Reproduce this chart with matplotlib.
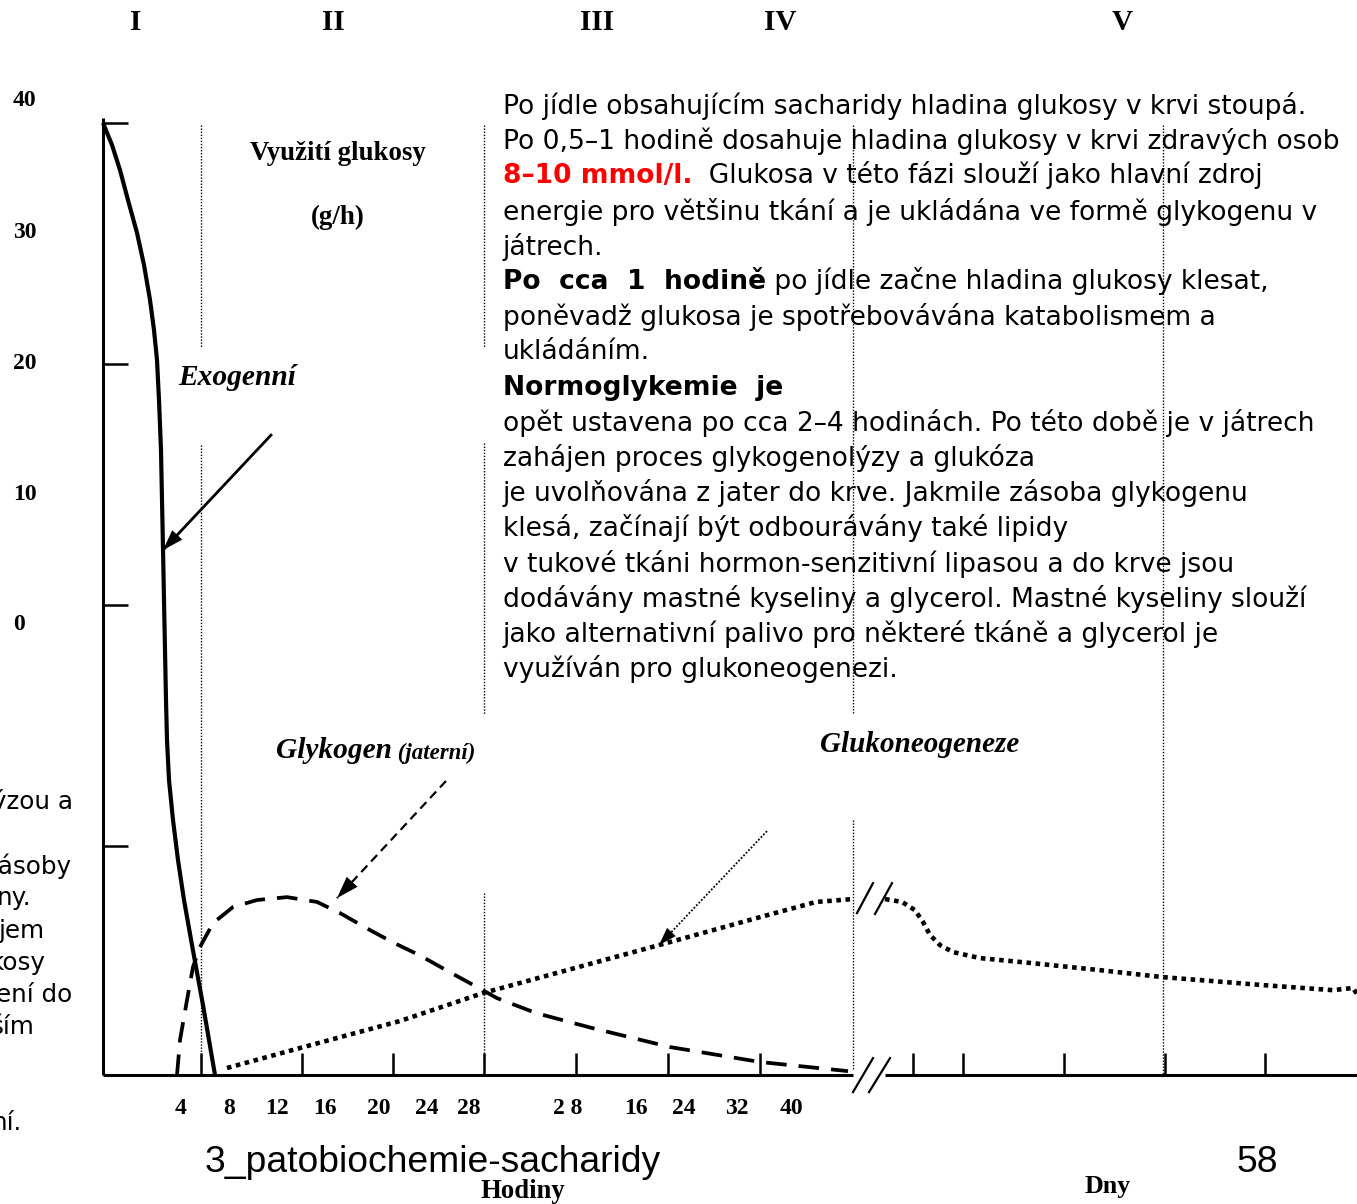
import matplotlib
matplotlib.use("Agg")
import matplotlib.pyplot as plt

W, H = 1357, 1204

# ---------------- data ----------------
roman_labels = ["I", "II", "III", "IV", "V"]
y_tick_labels = ["40", "30", "20", "10", "0"]
y_tick_values = [40, 30, 20, 10]
x_labels_hours = ["4", "8", "12", "16", "20", "24", "28"]
x_labels_second = ["2 8", "16", "24", "32", "40"]
x_tick_positions = [98, 199, 290, 381, 473, 565, 657, 810, 860, 961, 1062, 1162]
phase_bounds = [98, 381, 750, 1060]

# Exogenous glucose (solid)
exo_x = [0, 9, 17, 25, 34, 41, 47, 51, 54, 56, 58, 59, 60, 61, 62, 63, 64, 66,
         70, 75, 81, 89, 100, 112]
exo_y = [40.0, 39.09, 38.05, 36.80, 35.44, 34.11, 32.66, 31.41, 30.17, 28.51,
         26.43, 24.36, 22.37, 20.21, 18.13, 16.06, 14.40, 12.74, 11.08, 9.42,
         7.76, 5.89, 3.40, 0.50]

# Liver glycogen (dashed)
gly_x = [74, 77, 84, 90, 97, 110, 130, 154, 184, 214, 237, 264, 290, 317, 344,
         374, 394, 433, 489, 567, 657, 745]
gly_y = [0.50, 1.95, 3.61, 4.98, 5.81, 6.80, 7.47, 7.76, 7.88, 7.68, 7.22, 6.58,
         6.00, 5.46, 4.83, 4.15, 3.69, 3.07, 2.45, 1.66, 1.04, 0.66]

# Gluconeogenesis (dotted), hours part and days part
gng_h_x = [124, 197, 297, 380, 457, 556, 657, 713, 750]
gng_h_y = [0.79, 1.62, 2.74, 3.90, 4.77, 5.89, 7.05, 7.68, 7.80]
gng_d_x = [782, 799, 812, 820, 827, 837, 850, 877, 927, 997, 1060, 1160, 1230, 1250, 1254]
gng_d_y = [7.80, 7.68, 7.34, 6.85, 6.31, 5.89, 5.60, 5.35, 5.15, 4.85, 4.56, 4.23,
           4.02, 4.11, 3.86]

para_lines = [
    [("Po jídle obsahujícím sacharidy hladina glukosy v krvi stoupá.", "n")],
    [("Po 0,5\u20131 hodině dosahuje hladina glukosy v krvi zdravých osob", "n")],
    [("8\u201310 mmol/l.", "r"), ("  Glukosa v této fázi slouží jako hlavní zdroj", "n")],
    [("energie pro většinu tkání a je ukládána ve formě glykogenu v", "n")],
    [("játrech.", "n")],
    [("Po  cca  1  hodině", "b"), (" po jídle začne hladina glukosy klesat,", "n")],
    [("poněvadž glukosa je spotřebovávána katabolismem a", "n")],
    [("ukládáním.", "n")],
    [("Normoglykemie  je", "b")],
    [("opět ustavena po cca 2\u20134 hodinách. Po této době je v játrech", "n")],
    [("zahájen proces glykogenolýzy a glukóza", "n")],
    [("je uvolňována z jater do krve. Jakmile zásoba glykogenu", "n")],
    [("klesá, začínají být odbourávány také lipidy", "n")],
    [("v tukové tkáni hormon-senzitivní lipasou a do krve jsou", "n")],
    [("dodávány mastné kyseliny a glycerol. Mastné kyseliny slouží", "n")],
    [("jako alternativní palivo pro některé tkáně a glycerol je", "n")],
    [("využíván pro glukoneogenezi.", "n")],
]
left_fragments = ["lýzou a", "zásoby", "ny.", "jem", "kosy", "ení do", "ším", "ní."]

# ---------------- layout ----------------
fig = plt.figure(figsize=(W / 100, H / 100), dpi=100)
renderer = fig.canvas.get_renderer()


def fx(px):
    return px / W


def fy(py):
    return 1 - py / H


def fit(t, target):
    w = t.get_window_extent(renderer).width
    t.set_fontsize(t.get_fontsize() * target / w)
    return t


SERIF = "Liberation Serif"
SANS = "Liberation Sans"
HAND = "DejaVu Sans"

AX_L, AX_R, AX_B, AX_T = 103, 1357, 1075, 123
ax = fig.add_axes([fx(AX_L), fy(AX_B), (AX_R - AX_L) / W, (AX_B - AX_T) / H])
ax.set_xlim(0, 1254)
ax.set_ylim(0.5, 40)
ax.axis("off")

K = dict(color="black", clip_on=False, solid_capstyle="butt")
# axes lines
ax.plot([0, 0], [0.5, 40.2], lw=2.2, **K)
ax.plot([0, 750], [0.5, 0.5], lw=2.2, **K)
ax.plot([782, 1254], [0.5, 0.5], lw=2.2, **K)
for yv in y_tick_values:
    ax.plot([0, 25], [yv, yv], lw=1.8, **K)
ax.vlines(x_tick_positions, 0.5, 1.41, lw=1.8, color="black", clip_on=False)

# phase boundary dotted lines (drawn in pieces, gaps where text sits)
phase_segments = [
    [(39.92, 30.66), (26.64, 0.91)],
    [(39.92, 30.66), (26.72, 15.44), (8.05, 0.91)],
    [(39.92, 15.52), (11.08, 0.71)],
    [(39.92, 0.5)],
]
for xb, segs in zip(phase_bounds, phase_segments):
    for y0, y1 in segs:
        ax.plot([xb, xb], [y0, y1], color="black", lw=1.0,
                linestyle=(0, (1, 1.2)), clip_on=False)

# curves
ax.plot(exo_x, exo_y, color="black", lw=3.0, clip_on=False,
        solid_capstyle="butt", solid_joinstyle="round")
ax.plot(gly_x, gly_y, color="black", lw=2.7, linestyle=(0, (5.5, 3.2)),
        clip_on=False, dash_capstyle="butt")
ax.plot(gng_h_x, gng_h_y, color="black", lw=3.3, linestyle=(0, (1, 1.0)),
        clip_on=False, dash_capstyle="butt")
ax.plot(gng_d_x, gng_d_y, color="black", lw=3.3, linestyle=(0, (1, 1.0)),
        clip_on=False, dash_capstyle="butt")

# axis break marks
for (xa, xb_), (ya, yb) in [((754, 770), (7.22, 8.46)), ((772, 789), (7.18, 8.46)),
                             ((750, 770), (-0.21, 1.20)), ((766, 787), (-0.21, 1.20))]:
    ax.plot([xa, xb_], [ya, yb], color="black", lw=1.6, clip_on=False)


# arrows
def arrow(tail, tip, ls, lw, hs):
    ax.plot([tail[0], tip[0]], [tail[1], tip[1]], color="black", lw=lw,
            linestyle=ls, clip_on=False)
    ax.annotate("", xy=tip, xytext=tail,
                arrowprops=dict(arrowstyle="-|>,head_length=1.0,head_width=0.33",
                                mutation_scale=hs, lw=0, color="black",
                                shrinkA=0, shrinkB=0))


arrow((168, 27.05), (60, 22.28), "-", 2.0, 15)
arrow((343, 12.70), (234, 7.84), (0, (4, 2.5)), 1.6, 16)
arrow((664, 10.62), (556, 5.89), (0, (1, 1)), 1.3, 13)

# ---------------- texts ----------------
rx = [136, 333, 597, 780, 1122]
for lab, x in zip(roman_labels, rx):
    fig.text(fx(x), fy(22), lab, family=SERIF, weight="bold", fontsize=21,
             ha="center", va="center")

ly = [101, 232, 363, 494, 625]
for lab, y in zip(y_tick_labels, ly):
    fig.text(fx(13), fy(y), lab, family=SERIF, weight="bold", fontsize=17,
             ha="left", va="center")

xl1 = [181, 229, 277, 325, 379, 427, 469]
for lab, x in zip(x_labels_hours, xl1):
    fig.text(fx(x), fy(1109), lab, family=SERIF, weight="bold", fontsize=17,
             ha="center", va="center")
xl2 = [568, 636, 684, 737, 791]
for lab, x in zip(x_labels_second, xl2):
    fig.text(fx(x), fy(1109), lab, family=SERIF, weight="bold", fontsize=17,
             ha="center", va="center")

t = fig.text(fx(338), fy(153), "Využití glukosy", family=SERIF, weight="bold",
             fontsize=19, ha="center", va="center")
fit(t, 176)
fig.text(fx(338), fy(217), "(g/h)", family=SERIF, weight="bold",
         fontsize=t.get_fontsize(), ha="center", va="center")

t = fig.text(fx(237), fy(377), "Exogenní", family=SERIF, weight="bold",
             style="italic", fontsize=21, ha="center", va="center")
fit(t, 118)
tg = fig.text(fx(276), fy(750), "Glykogen", family=SERIF, weight="bold",
              style="italic", fontsize=21, ha="left", va="center")
fit(tg, 116)
tj = ax.annotate(" (jaterní)", xy=(1, 0), xycoords=tg, family=SERIF,
                 weight="bold", style="italic", fontsize=16.5, ha="left",
                 va="bottom")
t = fig.text(fx(920), fy(744), "Glukoneogeneze", family=SERIF, weight="bold",
             style="italic", fontsize=21, ha="center", va="center")
fit(t, 199)

t = fig.text(fx(523), fy(1191), "Hodiny", family=SERIF, weight="bold",
             fontsize=18, ha="center", va="center")
fit(t, 84)
t = fig.text(fx(1108), fy(1186), "Dny", family=SERIF, weight="bold",
             fontsize=18, ha="center", va="center")
fit(t, 46)

t = fig.text(fx(205), fy(1162), "3_patobiochemie-sacharidy", family=SANS,
             fontsize=28, ha="left", va="center")
fit(t, 455)
fig.text(fx(1237), fy(1162), "58", family=SANS, fontsize=t.get_fontsize(),
         ha="left", va="center")

# paragraph
probe = fig.text(0, 0, "".join(s for s, _ in para_lines[1]), family=HAND,
                 fontsize=20)
psize = 20 * 837 / probe.get_window_extent(renderer).width
probe.remove()

for i, segs in enumerate(para_lines):
    y = 106 + 35.2 * i
    prev = None
    for txt, st in segs:
        kw = dict(family=HAND, fontsize=psize,
                  weight="bold" if st in ("b", "r") else "normal",
                  color="#ff0000" if st == "r" else "black")
        if prev is None:
            prev = fig.text(fx(503), fy(y), txt, ha="left", va="center", **kw)
        else:
            prev = ax.annotate(txt, xy=(1, 0), xycoords=prev, ha="left",
                               va="bottom", **kw)

# text of a neighbouring box, cut off by the left edge as in the original
lf_x = [73, 71, 31, 45, 46, 72, 35, 22]
lf_y = [802, 866, 898, 931, 963, 995, 1027, 1123]
for txt, x, y in zip(left_fragments, lf_x, lf_y):
    fig.text(fx(x), fy(y), txt, family=HAND, fontsize=psize * 0.93,
             ha="right", va="center")

fig.savefig("out.png", dpi=100)
